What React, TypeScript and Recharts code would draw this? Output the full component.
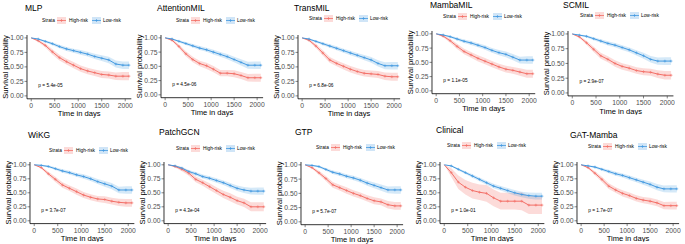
import React from 'react';
import { ComposedChart, Line, Area, XAxis, YAxis, ReferenceDot } from 'recharts';

// ---- data ----
const times = [0, 150, 300, 450, 600, 750, 900, 1050, 1200, 1350, 1500, 1650, 1800, 1950, 2080];
const xTicks = [0, 500, 1000, 1500, 2000];
const yTicks = [0, 0.25, 0.5, 0.75, 1];
const titles = ['MLP', 'AttentionMIL', 'TransMIL', 'MambaMIL', 'SCMIL', 'WiKG', 'PatchGCN', 'GTP', 'Clinical', 'GAT-Mamba'];
const pValues = ['p = 5.4e-05', 'p = 4.5e-06', 'p = 6.8e-06', 'p = 1.1e-05', 'p = 2.9e-07', 'p = 3.7e-07', 'p = 4.3e-04', 'p = 5.7e-07', 'p = 1.0e-01', 'p = 1.7e-07'];

const mlpHigh = [1, 0.95, 0.87, 0.76, 0.66, 0.59, 0.53, 0.47, 0.43, 0.40, 0.37, 0.36, 0.34, 0.34, 0.34];
const mlpLow = [1, 0.98, 0.94, 0.90, 0.85, 0.81, 0.78, 0.75, 0.72, 0.68, 0.65, 0.62, 0.55, 0.53, 0.53];
const attHigh = [1, 0.96, 0.85, 0.72, 0.62, 0.55, 0.51, 0.45, 0.38, 0.38, 0.37, 0.34, 0.30, 0.30, 0.30];
const attLow = [1, 0.98, 0.94, 0.90, 0.86, 0.82, 0.79, 0.75, 0.71, 0.67, 0.62, 0.57, 0.52, 0.52, 0.52];
const transHigh = [1, 0.96, 0.86, 0.74, 0.62, 0.56, 0.51, 0.46, 0.42, 0.39, 0.38, 0.37, 0.34, 0.33, 0.33];
const transLow = [1, 0.98, 0.94, 0.90, 0.86, 0.82, 0.78, 0.74, 0.70, 0.66, 0.62, 0.56, 0.52, 0.52, 0.52];
const mambaHigh = [1, 0.96, 0.88, 0.78, 0.69, 0.63, 0.57, 0.52, 0.47, 0.42, 0.38, 0.36, 0.33, 0.30, 0.30];
const mambaLow = [1, 0.98, 0.95, 0.91, 0.87, 0.84, 0.80, 0.76, 0.71, 0.67, 0.64, 0.59, 0.54, 0.54, 0.54];
const scmilHigh = [1, 0.95, 0.85, 0.74, 0.63, 0.57, 0.50, 0.45, 0.42, 0.38, 0.36, 0.35, 0.32, 0.30, 0.30];
const scmilLow = [1, 0.98, 0.96, 0.92, 0.88, 0.84, 0.81, 0.77, 0.73, 0.68, 0.63, 0.57, 0.54, 0.54, 0.54];
const wikgHigh = [1, 0.95, 0.84, 0.74, 0.64, 0.58, 0.52, 0.46, 0.42, 0.39, 0.38, 0.35, 0.33, 0.32, 0.32];
const wikgLow = [1, 0.99, 0.97, 0.93, 0.89, 0.86, 0.82, 0.79, 0.75, 0.70, 0.66, 0.62, 0.55, 0.55, 0.55];
const patchHigh = [1, 0.97, 0.92, 0.85, 0.74, 0.68, 0.61, 0.54, 0.47, 0.42, 0.36, 0.32, 0.25, 0.25, 0.25];
const patchLow = [1, 0.98, 0.94, 0.88, 0.84, 0.79, 0.76, 0.72, 0.68, 0.63, 0.58, 0.55, 0.53, 0.53, 0.53];
const gtpHigh = [1, 0.95, 0.86, 0.76, 0.65, 0.60, 0.55, 0.50, 0.46, 0.41, 0.37, 0.35, 0.30, 0.28, 0.28];
const gtpLow = [1, 0.99, 0.97, 0.92, 0.87, 0.84, 0.80, 0.77, 0.73, 0.68, 0.64, 0.60, 0.56, 0.56, 0.56];
const clinHigh = [1, 0.86, 0.69, 0.60, 0.54, 0.51, 0.49, 0.41, 0.35, 0.35, 0.35, 0.35, 0.28, 0.28, 0.28];
const clinLow = [1, 0.98, 0.92, 0.86, 0.80, 0.74, 0.68, 0.62, 0.58, 0.54, 0.50, 0.47, 0.45, 0.44, 0.44];
const gatHigh = [1, 0.95, 0.85, 0.74, 0.62, 0.55, 0.49, 0.45, 0.40, 0.37, 0.35, 0.32, 0.27, 0.27, 0.27];
const gatLow = [1, 0.98, 0.96, 0.92, 0.88, 0.84, 0.81, 0.77, 0.73, 0.69, 0.65, 0.60, 0.57, 0.57, 0.57];

// confidence half-widths
const ciHighStd = [0, 0.02, 0.035, 0.045, 0.05, 0.05, 0.055, 0.055, 0.055, 0.055, 0.06, 0.06, 0.065, 0.07, 0.07];
const ciLowStd = [0, 0.01, 0.02, 0.025, 0.03, 0.035, 0.035, 0.04, 0.04, 0.045, 0.05, 0.055, 0.06, 0.065, 0.065];
const ciHighPatch = [0, 0.02, 0.035, 0.045, 0.05, 0.055, 0.06, 0.06, 0.065, 0.07, 0.07, 0.075, 0.08, 0.08, 0.08];
const ciHighClin = [0, 0.08, 0.12, 0.13, 0.14, 0.14, 0.15, 0.15, 0.15, 0.15, 0.15, 0.16, 0.16, 0.16, 0.16];
const ciLowClin = [0, 0.01, 0.02, 0.025, 0.03, 0.035, 0.035, 0.04, 0.04, 0.045, 0.05, 0.05, 0.055, 0.06, 0.06];

const highSeries = [mlpHigh, attHigh, transHigh, mambaHigh, scmilHigh, wikgHigh, patchHigh, gtpHigh, clinHigh, gatHigh];
const lowSeries = [mlpLow, attLow, transLow, mambaLow, scmilLow, wikgLow, patchLow, gtpLow, clinLow, gatLow];
const highCI = [ciHighStd, ciHighStd, ciHighStd, ciHighStd, ciHighStd, ciHighStd, ciHighPatch, ciHighStd, ciHighClin, ciHighStd];
const lowCI = [ciLowStd, ciLowStd, ciLowStd, ciLowStd, ciLowStd, ciLowStd, ciLowStd, ciLowStd, ciLowClin, ciLowStd];

// ---- layout (pixel positions of each panel) ----
const layout = [
  { x0: 31, x2k: 125, y1: 38, y0: 96, tx: 25, ty: 8, lx: 42, ly: 20 },
  { x0: 165, x2k: 257, y1: 38, y0: 95, tx: 157, ty: 8, lx: 176, ly: 20 },
  { x0: 302, x2k: 394, y1: 38, y0: 96, tx: 294, ty: 8, lx: 309, ly: 18 },
  { x0: 436, x2k: 529, y1: 34, y0: 91, tx: 430, ty: 5, lx: 443, ly: 16 },
  { x0: 572, x2k: 667, y1: 34, y0: 93, tx: 563, ty: 5, lx: 580, ly: 15 },
  { x0: 34, x2k: 128, y1: 165, y0: 221, tx: 28, ty: 135, lx: 49, ly: 150 },
  { x0: 168, x2k: 260, y1: 165, y0: 221, tx: 159, ty: 132, lx: 176, ly: 148 },
  { x0: 305, x2k: 397, y1: 165, y0: 222, tx: 295, ty: 132, lx: 316, ly: 147 },
  { x0: 444, x2k: 538, y1: 165, y0: 221, tx: 436, ty: 130, lx: 447, ly: 145 },
  { x0: 581, x2k: 673, y1: 165, y0: 221, tx: 570, ty: 135, lx: 588, ly: 146 },
];

const RED = '#F36E66';
const BLUE = '#4299E0';
const FONT = '"Liberation Sans", Arial, sans-serif';
const XMIN = -90;
const XMAX = 2130;
const YW = 34;
const MT = 2;
const MR = 2;
const TICK = 2.5;
const TICK_FONT = 6.8;
const LAB_FONT = 7.6;
const TICK_GAP = 6.5; // tick label centre below the axis line
const LAB_GAP = 15; // axis title centre below the axis line

const clip = (v: number) => Math.max(0, Math.min(1, v));

const plusDot = (color: string) => (props: any) => {
  const { cx, cy, index } = props;
  if (index === 0 || cx == null || cy == null) return <g key={`d${index}`} />;
  return (
    <path
      key={`d${index}`}
      d={`M${cx - 1.4},${cy}h2.8M${cx},${cy - 1.4}v2.8`}
      stroke={color}
      strokeWidth={0.6}
      fill="none"
    />
  );
};

function LegendKey({ color }: { color: string }) {
  return (
    <svg width={9} height={7} style={{ display: 'block' }}>
      <rect x={0} y={0} width={9} height={7} fill={color} fillOpacity={0.25} />
      <line x1={0} y1={3.5} x2={9} y2={3.5} stroke={color} strokeWidth={0.8} />
      <path d="M4.5,2v3M3,3.5h3" stroke={color} strokeWidth={0.6} />
    </svg>
  );
}

function Panel({ idx }: { idx: number }) {
  const L = layout[idx];
  const k = (L.x2k - L.x0) / 2000;
  const m = L.y0 - L.y1;
  const plotLeft = L.x0 + XMIN * k;
  const plotRight = L.x0 + XMAX * k;
  const plotTop = L.y1 - 0.05 * m;
  const plotBottom = L.y0 + 0.05 * m;
  const tickMargin = Math.max(0, TICK_GAP - 2.4 - TICK);
  const xh = LAB_GAP + 2.7 + 1;
  const width = plotRight - plotLeft + YW + MR;
  const height = plotBottom - plotTop + MT + xh;
  const hi = highSeries[idx];
  const lo = lowSeries[idx];
  const hc = highCI[idx];
  const lc = lowCI[idx];
  const data = times.map((t, i) => ({
    t,
    high: hi[i],
    highBand: [clip(hi[i] - hc[i]), clip(hi[i] + hc[i])],
    low: lo[i],
    lowBand: [clip(lo[i] - lc[i]), clip(lo[i] + lc[i])],
  }));
  const tickStyle = { fontSize: TICK_FONT, fill: '#4D4D4D', fontFamily: FONT };
  return (
    <>
      <div
        style={{
          position: 'absolute',
          left: L.tx,
          top: L.ty - 5,
          fontSize: 8.5,
          lineHeight: '10px',
          fontFamily: FONT,
          color: '#000',
          whiteSpace: 'nowrap',
        }}
      >
        {titles[idx]}
      </div>
      <div
        style={{
          position: 'absolute',
          left: L.lx,
          top: L.ly - 4,
          height: 8,
          display: 'flex',
          alignItems: 'center',
          fontSize: 4.8,
          fontFamily: FONT,
          color: '#000',
          whiteSpace: 'nowrap',
        }}
      >
        <span style={{ width: 15 }}>Strata</span>
        <LegendKey color={RED} />
        <span style={{ marginLeft: 3, width: 23 }}>High-risk</span>
        <LegendKey color={BLUE} />
        <span style={{ marginLeft: 2 }}>Low-risk</span>
      </div>
      <div style={{ position: 'absolute', left: plotLeft - YW, top: plotTop - MT }}>
        <ComposedChart
          width={width}
          height={height}
          data={data}
          margin={{ top: MT, right: MR, left: 0, bottom: 0 }}
        >
          <XAxis
            type="number"
            dataKey="t"
            domain={[XMIN, XMAX]}
            ticks={xTicks}
            allowDataOverflow
            height={xh}
            tickSize={TICK}
            tickMargin={tickMargin}
            tick={tickStyle}
            stroke="#000"
            axisLine={{ stroke: '#000', strokeWidth: 0.8 }}
            tickLine={{ stroke: '#333', strokeWidth: 0.6 }}
            label={{ value: 'Time in days', position: 'insideBottom', offset: 1, fontSize: LAB_FONT, fill: '#000', fontFamily: FONT }}
          />
          <YAxis
            type="number"
            domain={[-0.05, 1.05]}
            ticks={yTicks}
            allowDataOverflow
            width={YW}
            tickSize={TICK}
            tickMargin={1}
            tick={tickStyle}
            tickFormatter={(v: number) => v.toFixed(2)}
            axisLine={{ stroke: '#000', strokeWidth: 0.8 }}
            tickLine={{ stroke: '#333', strokeWidth: 0.6 }}
            label={{ value: 'Survival probability', angle: -90, position: 'center', dx: -5, fontSize: LAB_FONT, fill: '#000', fontFamily: FONT }}
          />
          <Area dataKey="highBand" type="linear" stroke="none" fill={RED} fillOpacity={0.25} isAnimationActive={false} />
          <Area dataKey="lowBand" type="linear" stroke="none" fill={BLUE} fillOpacity={0.22} isAnimationActive={false} />
          <Line dataKey="high" type="linear" stroke={RED} strokeWidth={1} dot={plusDot(RED)} activeDot={false} isAnimationActive={false} />
          <Line dataKey="low" type="linear" stroke={BLUE} strokeWidth={1} dot={plusDot(BLUE)} activeDot={false} isAnimationActive={false} />
          <ReferenceDot
            x={45}
            y={0.19}
            r={0}
            fill="none"
            stroke="none"
            label={{ value: pValues[idx], position: 'right', fontSize: 4.8, fill: '#000', fontFamily: FONT }}
          />
        </ComposedChart>
      </div>
    </>
  );
}

export default function App() {
  return (
    <div style={{ position: 'absolute', left: 0, top: 0, width: 685, height: 244, background: '#fff', overflow: 'hidden' }}>
      {titles.map((_, i) => (
        <Panel key={i} idx={i} />
      ))}
    </div>
  );
}
